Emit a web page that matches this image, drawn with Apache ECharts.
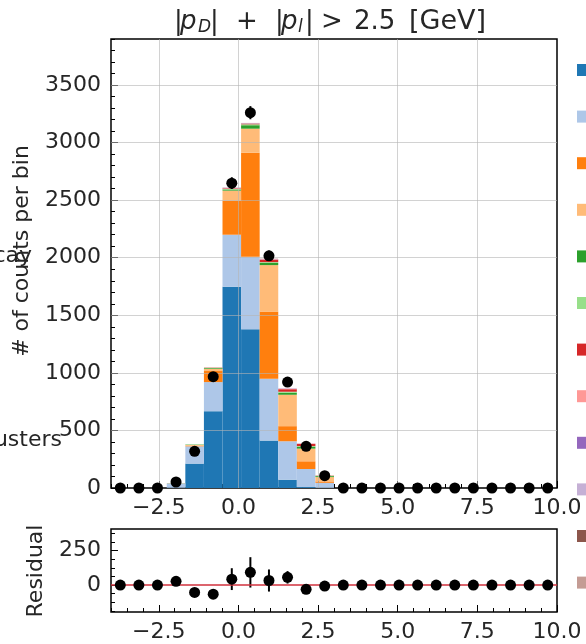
<!DOCTYPE html>
<html>
<head>
<meta charset="utf-8">
<script src="https://cdn.jsdelivr.net/npm/echarts@6/dist/echarts.min.js"></script>
<style>
html, body { margin: 0; padding: 0; background: #fff; }
#chart { width: 586px; height: 644px; }
</style>
</head>
<body>
<div id="chart"></div>
<script>
// binning of the histogram
var binLo = -4, binHi = 10, nBins = 24;

// stacked MC components (counts per bin, bins 0..23)
var mcNames = ['MC 1', 'MC 2', 'MC 3', 'MC 4', 'MC 5', 'MC 6', 'MC 7', 'MC 8', 'MC 9', 'MC 10', 'MC 11', 'MC 12'];
var mcColors = ['#1f77b4', '#aec7e8', '#ff7f0e', '#ffbb78', '#2ca02c', '#98df8a',
                '#d62728', '#ff9896', '#9467bd', '#c5b0d5', '#8c564b', '#c49c94'];
var mc1  = [0, 0, 0, 3, 212, 667, 1747, 1379, 412, 72, 8, 2, 0, 0, 0, 0, 0, 0, 0, 0, 0, 0, 0, 0];
var mc2  = [0, 0, 0, 37, 150, 253, 453, 630, 537, 334, 157, 43, 0, 0, 0, 0, 0, 0, 0, 0, 0, 0, 0, 0];
var mc3  = [0, 0, 0, 0, 4, 96, 296, 903, 581, 131, 67, 12, 0, 0, 0, 0, 0, 0, 0, 0, 0, 0, 0, 0];
var mc4  = [0, 0, 0, 2, 8, 20, 87, 209, 406, 273, 110, 38, 0, 0, 0, 0, 0, 0, 0, 0, 0, 0, 0, 0];
var mc5  = [0, 0, 0, 1, 3, 6, 10, 30, 20, 18, 16, 8, 0, 0, 0, 0, 0, 0, 0, 0, 0, 0, 0, 0];
var mc6  = [0, 0, 0, 0, 1, 2, 4, 8, 6, 8, 6, 3, 0, 0, 0, 0, 0, 0, 0, 0, 0, 0, 0, 0];
var mc7  = [0, 0, 0, 0, 0, 2, 5, 4, 20, 22, 18, 2, 0, 0, 0, 0, 0, 0, 0, 0, 0, 0, 0, 0];
var mc8  = [0, 0, 0, 0, 0, 1, 3, 3, 5, 4, 4, 1, 0, 0, 0, 0, 0, 0, 0, 0, 0, 0, 0, 0];
var mc9  = [0, 0, 0, 0, 0, 0, 2, 2, 2, 2, 1, 0, 0, 0, 0, 0, 0, 0, 0, 0, 0, 0, 0, 0];
var mc10 = [0, 0, 0, 0, 0, 0, 1, 1, 1, 1, 0, 0, 0, 0, 0, 0, 0, 0, 0, 0, 0, 0, 0, 0];
var mc11 = [0, 0, 0, 0, 0, 0, 1, 1, 1, 0, 0, 0, 0, 0, 0, 0, 0, 0, 0, 0, 0, 0, 0, 0];
var mc12 = [0, 0, 0, 0, 0, 0, 0, 1, 1, 0, 0, 0, 0, 0, 0, 0, 0, 0, 0, 0, 0, 0, 0, 0];
var mcAll = [mc1, mc2, mc3, mc4, mc5, mc6, mc7, mc8, mc9, mc10, mc11, mc12];

// observed data and errors
var dataCounts = [0, 0, 0, 52, 319, 967, 2648, 3260, 2017, 920, 362, 107, 0, 0, 0, 0, 0, 0, 0, 0, 0, 0, 0, 0];
var dataErr    = [0, 0, 0, 7, 18, 31, 51, 57, 45, 30, 19, 10, 0, 0, 0, 0, 0, 0, 0, 0, 0, 0, 0, 0];

// residual panel
var residual    = [0, 0, 0, 27, -53, -66, 43, 92, 33, 56, -31, -7, 0, 0, 0, 0, 0, 0, 0, 0, 0, 0, 0, 0];
var residualErr = [0, 0, 0, 8, 18, 31, 79, 110, 80, 45, 19, 10, 0, 0, 0, 0, 0, 0, 0, 0, 0, 0, 0, 0];

// ticks
var xMajor = [-2.5, 0, 2.5, 5, 7.5, 10];
var yMajor = [0, 500, 1000, 1500, 2000, 2500, 3000, 3500];
var resMajor = [0, 250];
var resMinor = [-187.5, -125, -62.5, 62.5, 125, 187.5, 312.5, 375];

var binW = (binHi - binLo) / nBins;
var xMinor = [];
for (var k = 0; k <= 28; k++) {
    var v = binLo + k * 0.5;
    if (xMajor.indexOf(v) < 0) xMinor.push(v);
}
var yMinor = [];
for (var t = 100; t <= 3900; t += 100) {
    if (t % 500 !== 0) yMinor.push(t);
}

function fmtX(v) { return v.toFixed(1).replace('-', '\u2212'); }
function fmtY(v) { return String(v); }

var txt = '#262626';
var font = 'DejaVu Sans';
var fs = 22;

function renderBar(params, api) {
    var p0 = api.coord([api.value(0), api.value(3)]);
    var p1 = api.coord([api.value(1), api.value(2)]);
    return {
        type: 'rect',
        shape: { x: p0[0], y: p0[1], width: p1[0] - p0[0], height: p1[1] - p0[1] },
        style: api.style()
    };
}

function renderErr(params, api) {
    var lo = api.coord([api.value(0), api.value(1)]);
    var hi = api.coord([api.value(0), api.value(2)]);
    return {
        type: 'line',
        shape: { x1: lo[0], y1: lo[1], x2: hi[0], y2: hi[1] },
        style: { stroke: '#000', lineWidth: 2 }
    };
}

var series = [];
var base = [];
for (var b = 0; b < nBins; b++) base.push(0);

for (var c = 0; c < mcAll.length; c++) {
    var items = [];
    for (var i = 0; i < nBins; i++) {
        var val = mcAll[c][i];
        if (val > 0) {
            items.push([binLo + i * binW, binLo + (i + 1) * binW, base[i], base[i] + val]);
        }
        base[i] += val;
    }
    series.push({
        name: mcNames[c],
        type: 'custom',
        xAxisIndex: 0,
        yAxisIndex: 0,
        renderItem: renderBar,
        encode: { x: [0, 1], y: [2, 3] },
        itemStyle: { color: mcColors[c] },
        data: items,
        z: 2,
        silent: true
    });
}

// grid lines drawn above the bars
var gridLines = [];
xMajor.forEach(function (x) { if (x > binLo && x < binHi) gridLines.push({ xAxis: x }); });
yMajor.forEach(function (y) { if (y > 0) gridLines.push({ yAxis: y }); });
series.push({
    type: 'line',
    xAxisIndex: 0,
    yAxisIndex: 0,
    data: [],
    z: 3,
    markLine: {
        silent: true,
        symbol: 'none',
        label: { show: false },
        lineStyle: { color: 'rgba(180,180,180,0.6)', width: 1, type: 'solid' },
        data: gridLines
    }
});

var pts = [], errs = [], resPts = [], resErrs = [];
for (var j = 0; j < nBins; j++) {
    var cx = binLo + (j + 0.5) * binW;
    pts.push([cx, dataCounts[j]]);
    errs.push([cx, dataCounts[j] - dataErr[j], dataCounts[j] + dataErr[j]]);
    resPts.push([cx, residual[j]]);
    resErrs.push([cx, residual[j] - residualErr[j], residual[j] + residualErr[j]]);
}

series.push({
    type: 'custom', xAxisIndex: 0, yAxisIndex: 0, renderItem: renderErr,
    encode: { x: 0, y: [1, 2] }, data: errs, z: 4, silent: true
});
series.push({
    type: 'scatter', xAxisIndex: 0, yAxisIndex: 0, data: pts,
    symbolSize: 11, itemStyle: { color: '#000', opacity: 1 }, z: 5, silent: true
});
series.push({
    type: 'line', xAxisIndex: 2, yAxisIndex: 2, data: [], z: 3,
    markLine: {
        silent: true, symbol: 'none', label: { show: false },
        lineStyle: { color: '#d0303c', width: 1.5, type: 'solid' },
        data: [{ yAxis: 0 }]
    }
});
series.push({
    type: 'custom', xAxisIndex: 2, yAxisIndex: 2, renderItem: renderErr,
    encode: { x: 0, y: [1, 2] }, data: resErrs, z: 4, silent: true
});
series.push({
    type: 'scatter', xAxisIndex: 2, yAxisIndex: 2, data: resPts,
    symbolSize: 11, itemStyle: { color: '#000', opacity: 1 }, z: 5, silent: true
});

function xAxes(gi) {
    return [{
        gridIndex: gi, type: 'value', min: binLo, max: binHi, position: 'bottom',
        axisLine: { show: false, onZero: false },
        axisTick: { inside: true, length: 7, customValues: xMajor, lineStyle: { color: '#000', width: 1 } },
        axisLabel: { customValues: xMajor, formatter: fmtX, fontSize: fs, color: txt, fontFamily: font, margin: 9 },
        splitLine: { show: false }
    }, {
        gridIndex: gi, type: 'value', min: binLo, max: binHi, position: 'bottom',
        axisLine: { show: false, onZero: false },
        axisTick: { inside: true, length: 4, customValues: xMinor, lineStyle: { color: '#000', width: 1 } },
        axisLabel: { show: false },
        splitLine: { show: false }
    }];
}

function yAxes(gi, lo, hi, major, minor) {
    return [{
        gridIndex: gi, type: 'value', min: lo, max: hi, position: 'left',
        axisLine: { show: false, onZero: false },
        axisTick: { show: true, inside: true, length: 7, customValues: major, lineStyle: { color: '#000' } },
        axisLabel: { customValues: major, formatter: fmtY, fontSize: fs, color: txt, fontFamily: font, margin: 10 },
        splitLine: { show: false }
    }, {
        gridIndex: gi, type: 'value', min: lo, max: hi, position: 'left',
        axisLine: { show: false, onZero: false },
        axisTick: { show: true, inside: true, length: 4, customValues: minor, lineStyle: { color: '#000' } },
        axisLabel: { show: false },
        splitLine: { show: false }
    }];
}

// title pieces (mathtext-like: |p_D|  +  |p_l| > 2.5  [GeV])
function tPiece(x, y, s, size, italic) {
    return {
        type: 'text', x: x, y: y,
        style: {
            text: s, fontSize: size, fontFamily: font, fontStyle: italic ? 'italic' : 'normal',
            fill: txt, align: 'left', verticalAlign: 'middle'
        }
    };
}
var titleParts = [
    tPiece(174, 22, '|', 26, false),
    tPiece(180, 22, 'p', 26, true),
    tPiece(198, 28, 'D', 17, true),
    tPiece(210, 22, '|', 26, false),
    tPiece(236, 22, '+', 26, false),
    tPiece(275, 22, '|', 26, false),
    tPiece(281, 22, 'p', 26, true),
    tPiece(298, 28, 'l', 17, true),
    tPiece(305, 22, '|', 26, false),
    tPiece(321, 22, '>', 26, false),
    tPiece(354, 22, '2.5', 26, false),
    tPiece(409, 22, '[GeV]', 27, false)
];

var option = {
    animation: false,
    backgroundColor: '#fff',
    grid: [
        { left: 111, top: 39, width: 446, height: 449, show: true, borderColor: '#000', borderWidth: 1.5, backgroundColor: 'transparent' },
        { left: 111, top: 529, width: 446, height: 83, show: true, borderColor: '#000', borderWidth: 1.5, backgroundColor: 'transparent' }
    ],
    legend: {
        orient: 'vertical', left: 577, top: 64, padding: 0, itemWidth: 12, itemHeight: 12, itemGap: 34.6,
        icon: 'rect', selectedMode: false,
        textStyle: { fontSize: 10, lineHeight: 12, color: txt },
        data: mcNames
    },
    xAxis: xAxes(0).concat(xAxes(1)),
    yAxis: yAxes(0, 0, 3900, yMajor, yMinor).concat(yAxes(1, -195, 406, resMajor, resMinor)),
    graphic: titleParts.concat([{
        type: 'text', x: 22, y: 251, rotation: Math.PI / 2,
        style: { text: '# of counts per bin', fontSize: fs, fontFamily: font, fill: txt, align: 'center', verticalAlign: 'middle' }
    }, {
        type: 'text', x: 36, y: 571, rotation: Math.PI / 2,
        style: { text: 'Residual', fontSize: fs, fontFamily: font, fill: txt, align: 'center', verticalAlign: 'middle' }
    }, {
        type: 'text', x: 32, y: 256,
        style: { text: 'cay', fontSize: fs, fontFamily: font, fill: txt, align: 'right', verticalAlign: 'middle' }
    }, {
        type: 'text', x: 62, y: 440,
        style: { text: 'usters', fontSize: fs, fontFamily: font, fill: txt, align: 'right', verticalAlign: 'middle' }
    }]),
    series: series
};

var chart = echarts.init(document.getElementById('chart'));
chart.setOption(option);
</script>
</body>
</html>
